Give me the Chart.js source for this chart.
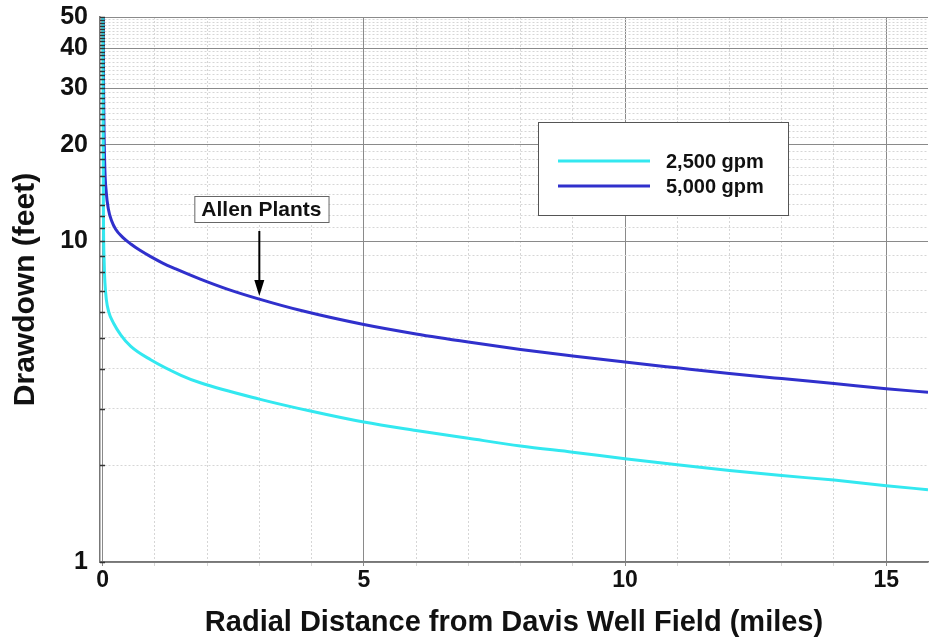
<!DOCTYPE html>
<html>
<head>
<meta charset="utf-8">
<script src="https://cdn.jsdelivr.net/npm/chart.js@4.4.0/dist/chart.umd.min.js"></script>
<style>
  html, body { margin: 0; padding: 0; background: #fff; }
  #wrap { width: 930px; height: 640px; position: relative; }
</style>
</head>
<body>
<div id="wrap"><canvas id="chart" width="930" height="640"></canvas></div>
<script>
// distances (miles) and drawdown (feet)
const lowX  = [0.004, 0.015, 0.03, 0.045, 0.07, 0.12, 0.21, 0.35, 0.54, 0.92, 1.5, 1.87, 3, 4, 5, 6, 7, 8, 9, 10, 11, 12, 13, 14, 15, 15.8];
const lowY  = [60, 13, 8.6, 7.4, 6.6, 6.0, 5.55, 5.1, 4.7, 4.27, 3.82, 3.62, 3.22, 2.95, 2.73, 2.57, 2.43, 2.3, 2.2, 2.1, 2.01, 1.93, 1.86, 1.8, 1.73, 1.68];
const highX = [0.008, 0.02, 0.04, 0.07, 0.11, 0.17, 0.25, 0.38, 0.54, 0.7, 0.92, 1.15, 1.4, 1.87, 2.4, 3, 3.8, 5, 6, 7, 8, 9, 10, 11, 12, 13, 14, 15, 15.8];
const highY = [60, 28, 17.5, 14.2, 12.6, 11.6, 10.9, 10.3, 9.8, 9.4, 8.95, 8.55, 8.2, 7.62, 7.08, 6.6, 6.08, 5.5, 5.14, 4.85, 4.6, 4.39, 4.2, 4.03, 3.87, 3.73, 3.6, 3.47, 3.38];

const seriesLabels = ['2,500 gpm', '5,000 gpm'];
const seriesColors = ['#33e8f0', '#3030cc'];

const xTicks = [0, 1, 2, 3, 4, 5, 6, 7, 8, 9, 10, 11, 12, 13, 14, 15];
const xLabels = [0, 5, 10, 15];
const yTicks = [1, 2, 3, 4, 5, 6, 7, 8, 9, 10, 11, 12, 13, 14, 15, 16, 17, 18, 19, 20,
  21, 22, 23, 24, 25, 26, 27, 28, 29, 30, 31, 32, 33, 34, 35, 36, 37, 38, 39, 40,
  41, 42, 43, 44, 45, 46, 47, 48, 49, 50];
const yLabels = [1, 10, 20, 30, 40, 50];

const note = { text: 'Allen Plants', x: 3.0, y: 6.6 };

const FONT = '"Liberation Sans", Arial, sans-serif';

function pts(xs, ys) { return xs.map((x, i) => ({ x: x, y: ys[i] })); }

function gridColor(labels) {
  return ctx => {
    if (!ctx.tick) return '#777';
    return labels.includes(ctx.tick.value) ? '#8a8a8a' : '#d6d6d6';
  };
}
function gridDash(labels) {
  return ctx => {
    if (!ctx.tick) return [];
    return labels.includes(ctx.tick.value) ? [] : [2, 2];
  };
}

const extras = {
  id: 'extras',
  afterDatasetsDraw(chart) {
    const c = chart.ctx;
    const xs = chart.scales.x, ys = chart.scales.y;
    c.save();

    // small tick marks inside the left axis
    c.strokeStyle = '#333';
    c.lineWidth = 1.5;
    yTicks.forEach(v => {
      const py = Math.round(ys.getPixelForValue(v)) + 0.5;
      c.beginPath();
      c.moveTo(chart.chartArea.left, py);
      c.lineTo(chart.chartArea.left + 5, py);
      c.stroke();
    });

    // legend box
    const bx = 538, by = 122, bw = 250, bh = 93;
    c.fillStyle = '#fff';
    c.fillRect(bx, by, bw, bh);
    c.strokeStyle = '#555';
    c.lineWidth = 1;
    c.strokeRect(bx + 0.5, by + 0.5, bw, bh);
    c.font = 'bold 20px ' + FONT;
    c.textBaseline = 'middle';
    seriesLabels.forEach((lab, i) => {
      const ly = by + 39 + i * 25;
      c.strokeStyle = seriesColors[i];
      c.lineWidth = 3;
      c.beginPath();
      c.moveTo(bx + 20, ly);
      c.lineTo(bx + 112, ly);
      c.stroke();
      c.fillStyle = '#111';
      c.fillText(lab, bx + 128, ly + 1);
    });

    // annotation with arrow
    const ax = xs.getPixelForValue(note.x);
    const tipY = ys.getPixelForValue(note.y) - 3;
    c.font = 'bold 21px ' + FONT;
    const tw = c.measureText(note.text).width;
    const boxW = tw + 14, boxH = 26;
    const boxX = ax - 65, boxY = 196;
    c.fillStyle = '#fff';
    c.fillRect(boxX, boxY, boxW, boxH);
    c.strokeStyle = '#666';
    c.lineWidth = 1;
    c.strokeRect(boxX + 0.5, boxY + 0.5, boxW, boxH);
    c.fillStyle = '#111';
    c.textAlign = 'center';
    c.fillText(note.text, boxX + boxW / 2, boxY + boxH / 2 + 1);

    c.strokeStyle = '#000';
    c.lineWidth = 2;
    c.beginPath();
    c.moveTo(ax, boxY + boxH + 9);
    c.lineTo(ax, tipY - 14);
    c.stroke();
    c.fillStyle = '#000';
    c.beginPath();
    c.moveTo(ax - 5, tipY - 16);
    c.lineTo(ax + 5, tipY - 16);
    c.lineTo(ax, tipY);
    c.closePath();
    c.fill();

    c.restore();
  }
};

new Chart(document.getElementById('chart'), {
  type: 'line',
  data: {
    datasets: [
      { label: seriesLabels[0], data: pts(lowX, lowY), borderColor: seriesColors[0] },
      { label: seriesLabels[1], data: pts(highX, highY), borderColor: seriesColors[1] }
    ]
  },
  options: {
    responsive: false,
    animation: false,
    devicePixelRatio: 1,
    layout: { padding: { top: 17, right: 2, left: 0, bottom: 0 } },
    elements: {
      point: { radius: 0 },
      line: { borderWidth: 3, cubicInterpolationMode: 'monotone' }
    },
    plugins: { legend: { display: false }, tooltip: { enabled: false } },
    scales: {
      x: {
        type: 'linear',
        min: -0.05,
        max: 15.8,
        afterBuildTicks: s => { s.ticks = xTicks.map(v => ({ value: v })); },
        afterFit: s => { s.height = 78; },
        ticks: {
          autoSkip: false,
          maxRotation: 0,
          padding: 1,
          color: '#111',
          font: { family: FONT, size: 23, weight: 'bold' },
          callback: v => xLabels.includes(v) ? String(v) : ''
        },
        grid: { color: gridColor(xLabels), drawTicks: true, tickLength: 4 },
        border: { color: '#777', width: 1.5, dash: gridDash(xLabels) },
        title: {
          display: true,
          text: 'Radial Distance from Davis Well Field (miles)',
          color: '#111',
          font: { family: FONT, size: 29, weight: 'bold' },
          padding: { top: 4, bottom: 0 }
        }
      },
      y: {
        type: 'logarithmic',
        min: 1,
        max: 50,
        afterBuildTicks: s => { s.ticks = yTicks.map(v => ({ value: v })); },
        afterFit: s => { s.width = 100; s.paddingTop = 0; s.paddingBottom = 0; },
        ticks: {
          autoSkip: false,
          padding: 12,
          color: '#111',
          font: { family: FONT, size: 25, weight: 'bold' },
          callback: v => yLabels.includes(v) ? String(v) : ''
        },
        grid: { color: gridColor(yLabels), drawTicks: false },
        border: { color: '#777', width: 1.5, dash: gridDash(yLabels) },
        title: {
          display: true,
          text: 'Drawdown (feet)',
          color: '#111',
          font: { family: FONT, size: 30, weight: 'bold' },
          padding: { top: 8, bottom: 0 }
        }
      }
    }
  },
  plugins: [extras]
});
</script>
</body>
</html>
